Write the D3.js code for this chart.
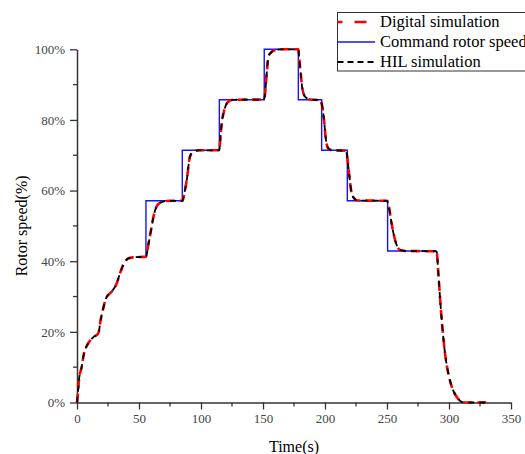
<!DOCTYPE html>
<html>
<head>
<meta charset="utf-8">
<script src="https://d3js.org/d3.v7.min.js"></script>
<style>
  body { margin: 0; background: #fff; }
  svg { display: block; }
  text { font-family: "Liberation Serif", "Times New Roman", serif; }
</style>
</head>
<body>
<div id="chart"></div>
<script>
// values: [time (s), rotor speed (%)]
const digitalSim = [
  [0,0],[0.8,3],[1.6,6.4],[3.8,10.1],[5.6,13.9],[8.3,16.3],[13.2,18.5],[17.2,19.6],
  [19.1,23.4],[21.2,26.7],[23.4,29.5],[28,31.4],[32,33.7],[34.7,36.6],[37.9,39.4],
  [41.4,40.8],[45,41.1],[55.6,41.3],[57.5,44.6],[59.7,48.8],[62.3,53.6],[65.6,56.2],
  [69.6,56.9],[75,57.1],[85.2,57.1],[85.7,57.8],[88.5,63],[91.1,69.6],[93.8,71],
  [98,71.4],[114.8,71.4],[115.3,73.4],[116.7,79],[118.8,82.8],[122,85.2],[126,85.7],
  [150.5,85.8],[151.6,87.2],[153,93.2],[154.3,97.9],[156.2,99],[160,99.8],[165,100],
  [178.5,100],[179.3,97],[180.4,93.2],[181.7,89],[183.9,86.6],[187.9,85.8],[196.3,85.6],
  [197.3,84.7],[199.2,80],[200.8,74.3],[202.7,71.9],[206,71.4],[216.5,71.3],[217.5,70.5],
  [219.4,64.9],[221.5,59.2],[223.5,57.8],[226,57.2],[250,57.1],[251.5,55.4],[253.7,50.7],
  [256.5,46],[260.5,43.2],[265,42.9],[289.5,42.8],[290.1,42.6],[291.4,36.6],[293.3,27.1],
  [294.6,21.5],[296.8,13.9],[299.4,8.3],[302.2,4.5],[306.2,1.6],[310.2,0.2],[314,0],[330,0]
]
const hilSim = [
  [0,0],[0.8,3],[1.6,6.4],[3.8,10.1],[5.6,13.9],[8.3,16.3],[13.2,18.5],[17.2,19.6],
  [19.1,23.4],[21.2,26.7],[23.4,29.5],[28,31.4],[32,33.7],[34.7,36.6],[37.9,39.4],
  [41.4,40.8],[45,41.1],[55.6,41.3],[57.5,44.6],[59.7,48.8],[62.3,53.6],[65.6,56.2],
  [69.6,56.9],[75,57.1],[85.2,57.1],[85.7,57.8],[88.5,63],[91.1,69.6],[93.8,71],
  [98,71.4],[114.8,71.4],[115.3,73.4],[116.7,79],[118.8,82.8],[122,85.2],[126,85.7],
  [150.5,85.8],[151.6,87.2],[153,93.2],[154.3,97.9],[156.2,99],[160,99.8],[165,100],
  [178.5,100],[179.3,97],[180.4,93.2],[181.7,89],[183.9,86.6],[187.9,85.8],[196.3,85.6],
  [197.3,84.7],[199.2,80],[200.8,74.3],[202.7,71.9],[206,71.4],[216.5,71.3],[217.5,70.5],
  [219.4,64.9],[221.5,59.2],[223.5,57.8],[226,57.2],[250,57.1],[251.5,55.4],[253.7,50.7],
  [256.5,46],[260.5,43.2],[265,42.9],[289.5,42.8],[290.1,42.6],[291.4,36.6],[293.3,27.1],
  [294.6,21.5],[296.8,13.9],[299.4,8.3],[302.2,4.5],[306.2,1.6],[310.2,0.2],[314,0],[333,0]
]
// command steps: [start time, level]
const commandSpeed = [
  [50,41.2],[55.6,57.1],[84.9,71.4],[114.8,85.7],[151,100],[178.5,85.7],
  [197.3,71.4],[218,57.1],[250.5,42.9],[290,42.9]
]
const xTicks = [0, 50, 100, 150, 200, 250, 300, 350]
const yTicks = [0, 20, 40, 60, 80, 100]
const legendNames = ['Digital simulation', 'Command rotor speed', 'HIL simulation']

const width = 525, height = 454
const svg = d3.select('#chart').append('svg').attr('width', width).attr('height', height)

const x = d3.scaleLinear().domain([0, 350]).range([77, 511])
const y = d3.scaleLinear().domain([0, 100]).range([402.5, 49.3])

// minor ticks first, under the axes
const xMinor = d3.range(25, 350, 50)
const yMinor = d3.range(10, 100, 20)
svg.append('g').selectAll('line').data(xMinor).join('line')
  .attr('x1', d => x(d)).attr('x2', d => x(d))
  .attr('y1', y(0)).attr('y2', y(0) + 4)
  .attr('stroke', '#333').attr('stroke-width', 1.3)
svg.append('g').selectAll('line').data(yMinor).join('line')
  .attr('y1', d => y(d)).attr('y2', d => y(d))
  .attr('x1', x(0)).attr('x2', x(0) - 4)
  .attr('stroke', '#333').attr('stroke-width', 1.3)

const xAxis = svg.append('g').attr('transform', `translate(0,${y(0)})`)
  .call(d3.axisBottom(x).tickValues(xTicks).tickSize(7).tickSizeOuter(0).tickPadding(4))
const yAxis = svg.append('g').attr('transform', `translate(${x(0)},0)`)
  .call(d3.axisLeft(y).tickValues(yTicks).tickFormat(d => d + '%').tickSize(7).tickSizeOuter(0).tickPadding(5))

;[xAxis, yAxis].forEach(a => {
  a.attr('font-family', 'Liberation Serif').attr('font-size', 13)
  a.select('.domain').attr('stroke', '#333').attr('stroke-width', 1.5)
  a.selectAll('.tick line').attr('stroke', '#333').attr('stroke-width', 1.3)
  a.selectAll('.tick text').attr('fill', '#444')
})

svg.append('text').attr('x', (x(0) + x(350)) / 2).attr('y', 452)
  .attr('text-anchor', 'middle').style('font-size', '16px').text('Time(s)')
svg.append('text').attr('transform', `translate(27,${(y(0) + y(100)) / 2}) rotate(-90)`)
  .attr('text-anchor', 'middle').style('font-size', '16px').text('Rotor speed(%)')

const smooth = d3.line().x(d => x(d[0])).y(d => y(d[1])).curve(d3.curveMonotoneX)
const steps = d3.line().x(d => x(d[0])).y(d => y(d[1])).curve(d3.curveStepAfter)

svg.append('path').datum(commandSpeed).attr('d', steps)
  .attr('fill', 'none').attr('stroke', '#1414ff').attr('stroke-width', 1.4)
svg.append('path').datum(digitalSim).attr('d', smooth)
  .attr('fill', 'none').attr('stroke', '#ff0000').attr('stroke-width', 2.6)
  .attr('stroke-dasharray', '9,5')
svg.append('path').datum(hilSim).attr('d', smooth)
  .attr('fill', 'none').attr('stroke', '#000').attr('stroke-width', 1.8)
  .attr('stroke-dasharray', '6,5')

// legend
const legend = svg.append('g')
legend.append('rect').attr('x', 337.5).attr('y', 12.5).attr('width', 200).attr('height', 58.5)
  .attr('fill', '#fff').attr('stroke', '#333').attr('stroke-width', 1)
const legendStyle = [
  {color: '#ff0000', w: 2.6, dash: '12,12', off: 7},
  {color: '#1414ff', w: 1.4, dash: null, off: 0},
  {color: '#000', w: 1.8, dash: '6,4', off: 0}
]
legendNames.forEach((name, i) => {
  const ly = 22 + i * 20
  const s = legendStyle[i]
  legend.append('line').attr('x1', 337.5).attr('x2', 375).attr('y1', ly).attr('y2', ly)
    .attr('stroke', s.color).attr('stroke-width', s.w)
    .attr('stroke-dasharray', s.dash).attr('stroke-dashoffset', s.off)
  legend.append('text').attr('x', 380).attr('y', ly + 5).style('font-size', '16.5px').text(name)
})
</script>
</body>
</html>
